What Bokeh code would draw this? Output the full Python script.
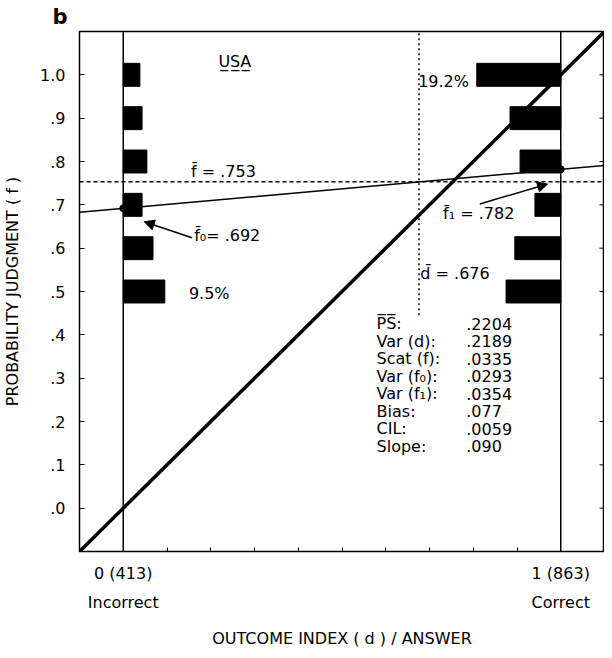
from bokeh.plotting import figure
from bokeh.models import (Range1d, FixedTicker, LinearAxis, Span, Label, Arrow, NormalHead,
                          Title)
from bokeh.embed import file_html
from bokeh.resources import INLINE

# ---- data ----
judgment_levels = [0.5, 0.6, 0.7, 0.8, 0.9, 1.0]
incorrect_pct = [9.5, 6.8, 4.3, 5.4, 4.3, 3.8]     # % of all answers, outcome d = 0
correct_pct = [12.5, 10.5, 5.9, 9.3, 11.6, 19.2]   # % of all answers, outcome d = 1
n_incorrect = 413
n_correct = 863
f_mean = 0.753
d_mean = 0.676
f0_mean = 0.692
f1_mean = 0.782
stat_names = ["P\u0305S\u0305:", "Var (d):", "Scat (f):", "Var (f\u2080):", "Var (f\u2081):",
              "Bias:", "CIL:", "Slope:"]
stat_values = [".2204", ".2189", ".0335", ".0293", ".0354", ".077", ".0059", ".090"]
y_ticks = [0.0, 0.1, 0.2, 0.3, 0.4, 0.5, 0.6, 0.7, 0.8, 0.9, 1.0]
y_tick_labels = [".0", ".1", ".2", ".3", ".4", ".5", ".6", ".7", ".8", ".9", "1.0"]
x_ticks = [0.0, 0.1, 0.2, 0.3, 0.4, 0.5, 0.6, 0.7, 0.8, 0.9, 1.0]
outcome_values = [0, 1]
outcome_counts = ["0 (%d)" % n_incorrect, "1 (%d)" % n_correct]
outcome_names = ["Incorrect", "Correct"]

LO, HI = -0.1, 1.1
FONT = "DejaVu Sans"
FS = "16px"

p = figure(width=604, height=650, x_range=Range1d(LO, HI), y_range=Range1d(LO, HI),
           output_backend="svg", toolbar_location=None,
           min_border_left=72, min_border_right=0, min_border_top=10, min_border_bottom=0)
p.title = Title(text="b", align="left", offset=-27, text_font=FONT, text_font_size="21px",
                text_font_style="bold", text_color="black", standoff=5)
p.xgrid.visible = False
p.ygrid.visible = False
p.outline_line_color = "black"
p.outline_line_width = 1.5
p.background_fill_color = "white"
p.border_fill_color = "white"

# left axis
ya = p.yaxis[0]
ya.ticker = FixedTicker(ticks=y_ticks)
ya.major_label_overrides = dict(zip(y_ticks, y_tick_labels))
ya.major_tick_in = 5
ya.major_tick_out = 0
ya.minor_tick_line_color = None
ya.axis_line_color = None
ya.major_label_standoff = 14
ya.major_label_text_font = FONT
ya.major_label_text_font_size = FS
ya.major_label_text_color = "black"
ya.axis_label = "PROBABILITY JUDGMENT ( f )"
ya.axis_label_text_font = FONT
ya.axis_label_text_font_size = FS
ya.axis_label_text_font_style = "normal"
ya.axis_label_text_color = "black"
ya.axis_label_standoff = 15

# right-hand inward ticks (mirroring the left axis ticks)
RIGHT_TICK = 0.0114
p.segment(x0=[HI - RIGHT_TICK] * len(y_ticks), y0=y_ticks, x1=[HI] * len(y_ticks), y1=y_ticks,
          line_color="black", line_width=1)

# bottom axis: inner ticks + count labels
xa = p.xaxis[0]
xa.ticker = FixedTicker(ticks=x_ticks)
xa.major_tick_in = 4
xa.major_tick_out = 0
xa.minor_tick_line_color = None
xa.axis_line_color = None
labels_x = {t: "" for t in x_ticks}
labels_x.update(dict(zip(outcome_values, outcome_counts)))
xa.major_label_overrides = labels_x
xa.major_label_text_font = FONT
xa.major_label_text_font_size = FS
xa.major_label_text_color = "black"
xa.major_label_standoff = 12

# second row: answer names + axis title
xb = LinearAxis(ticker=FixedTicker(ticks=outcome_values),
                major_label_overrides=dict(zip(outcome_values, outcome_names)),
                major_tick_line_color=None, minor_tick_line_color=None, axis_line_color=None,
                major_label_text_font=FONT, major_label_text_font_size=FS,
                major_label_text_color="black", major_label_standoff=1,
                axis_label="OUTCOME INDEX ( d ) / ANSWER", axis_label_text_font=FONT,
                axis_label_text_font_size=FS, axis_label_text_font_style="normal",
                axis_label_text_color="black", axis_label_standoff=14)
p.add_layout(xb, "below")

# reference lines
p.add_layout(Span(location=0, dimension="height", line_color="black", line_width=1.5))
p.add_layout(Span(location=1, dimension="height", line_color="black", line_width=1.5))
p.add_layout(Span(location=f_mean, dimension="width", line_color="black",
                  line_width=1.5, line_dash="4 3"))
p.segment(x0=[d_mean], y0=[0.445], x1=[d_mean], y1=[HI], line_color="black",
          line_width=1.5, line_dash="2 3")

# bars
BAR_H = 0.053
p.hbar(y=judgment_levels, left=0, right=[v / 100 for v in incorrect_pct], height=BAR_H,
       fill_color="black", line_color="black")
p.hbar(y=judgment_levels, left=[1 - v / 100 for v in correct_pct], right=1, height=BAR_H,
       fill_color="black", line_color="black")

# identity diagonal and regression line
p.line(x=[LO, HI], y=[LO, HI], line_color="black", line_width=3.5)
p.line(x=[LO, HI], y=[f0_mean + (f1_mean - f0_mean) * x for x in (LO, HI)],
       line_color="black", line_width=1.5)
p.scatter(x=[0, 1], y=[f0_mean, f1_mean], size=7, fill_color="black", line_color="black")

def lab(x, y, text, align="left", size=FS, style="normal", baseline="middle"):
    p.add_layout(Label(x=x, y=y, text=text, text_align=align, text_baseline=baseline,
                       text_font=FONT, text_font_size=size, text_font_style=style,
                       text_color="black"))

lab(0.255, 1.031, "U\u0332S\u0332A\u0332", align="center")
lab(0.155, 0.778, "f\u0304  =  .%d" % round(f_mean * 1000))
lab(0.162, 0.629, "f\u0304\u2080=  .%d" % round(f0_mean * 1000))
lab(0.731, 0.679, "f\u0304\u2081 = .%d" % round(f1_mean * 1000))
lab(0.679, 0.541, "d\u0304  =  .%d" % round(d_mean * 1000))
lab(0.150, 0.495, "%.1f%%" % incorrect_pct[0])
lab(0.674, 0.985, "%.1f%%" % correct_pct[-1])

p.add_layout(Arrow(end=NormalHead(size=10, fill_color="black", line_color="black"),
                   x_start=0.157, y_start=0.624, x_end=0.048, y_end=0.661,
                   line_color="black", line_width=1.5))
p.add_layout(Arrow(end=NormalHead(size=10, fill_color="black", line_color="black"),
                   x_start=0.815, y_start=0.702, x_end=0.97, y_end=0.748,
                   line_color="black", line_width=1.5))

# statistics block
for i, (nm, vv) in enumerate(zip(stat_names, stat_values)):
    yy = 0.426 - 0.0404 * i
    lab(0.579, yy, nm)
    lab(0.784, yy, vv)

open("out.html", "w").write(file_html(p, INLINE))
